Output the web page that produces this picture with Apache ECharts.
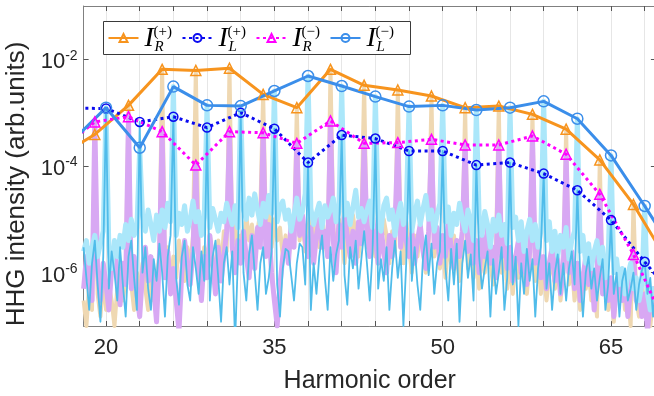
<!DOCTYPE html>
<html><head><meta charset="utf-8">
<script src="https://cdn.jsdelivr.net/npm/echarts@6/dist/echarts.min.js"></script>
<style>html,body{margin:0;padding:0;background:#fff}#c{width:654px;height:396px}</style>
</head><body><div id="c"></div>
<script>
// ---------- data ----------
const X_MIN = 18, X_MAX = 69, STEP = 0.25;
const xTickValues = [20,23,26,29,32,35,38,41,44,47,50,53,56,59,62,65,68];
const xLabelValues = [20,35,50,65];
const yTickValues = [1e-6,1e-4,1e-2];

const harmonicsR = [16,19,22,25,28,31,34,37,40,43,46,49,52,55,58,61,64,67,70];
const harmonicsL = [17,20,23,26,29,32,35,38,41,44,47,50,53,56,59,62,65,68,71];
const IRplus  = [1.6e-4,3.9e-4,1.37e-3,6.5e-3,6.2e-3,6.8e-3,2.2e-3,1.24e-3,6.5e-3,3.26e-3,2.66e-3,2.05e-3,1.24e-3,1.33e-3,9.3e-4,4.9e-4,1.3e-4,1.9e-5,1.7e-6];
const ILplus  = [1.21e-3,1.2e-3,6.7e-4,8.4e-4,5.25e-4,1.0e-3,5.0e-4,1.16e-4,3.8e-4,3.27e-4,1.91e-4,1.91e-4,1.04e-4,1.16e-4,7.2e-5,3.5e-5,9.7e-6,1.6e-6,2.8e-7];
const IRminus = [2.1e-4,6.7e-4,8.4e-4,4.4e-4,1.04e-4,4.4e-4,4.2e-4,2.66e-4,7.0e-4,2.66e-4,2.75e-4,3.16e-4,2.48e-4,2.48e-4,3.65e-4,1.66e-4,2.94e-5,2.2e-6,8.7e-8];
const ILminus = [2.96e-4,1.24e-3,2.2e-4,3.08e-3,1.37e-3,1.33e-3,2.55e-3,4.87e-3,3.16e-3,2.0e-3,1.30e-3,1.37e-3,1.12e-3,1.24e-3,1.63e-3,7.7e-4,1.58e-4,1.78e-5,1.8e-6];

// spectra between peaks, sampled every 0.25 harmonic from 18 to 69 (null = harmonic peak)
const specRplusFloor = [
3e-7,1e-7,6e-7,2e-7, null,4e-7,1.5e-7,8e-7, 2e-7,6e-7,3e-7,1e-7, 5e-7,1.2e-6,3e-7,8e-7,
null,6e-7,2e-7,1e-6, 4e-7,1.5e-6,5e-7,2e-7, 1e-6,3e-7,8e-7,2e-6, null,1e-6,3e-6,6e-7,
2e-6,8e-7,4e-6,1.5e-6, 7e-7,3e-6,1.2e-6,5e-6, null,2e-6,6e-7,3e-6, 1.5e-6,5e-6,2e-6,8e-7,
4e-6,1.2e-6,6e-6,2.5e-6, null,3e-6,9e-6,1.5e-6, 5e-6,2e-6,1.2e-5,4e-6, 8e-6,2.5e-6,6e-6,1.5e-5,
null,6e-6,1.8e-5,3e-6, 1e-5,4e-6,7e-6,2e-6, 5e-6,1.5e-6,8e-6,3e-6, null,4e-6,1.2e-5,2.5e-6,
6e-6,1.5e-5,5e-6,9e-6, 3e-6,1.2e-5,4e-6,2e-6, null,7e-6,2e-6,1e-5, 4e-6,1.5e-6,8e-6,3e-6,
1.2e-5,5e-6,2e-6,7e-6, null,3e-6,1.4e-5,5e-6, 2e-6,8e-6,3e-6,1e-5, 5e-6,1.5e-6,6e-6,2.5e-6,
null,4e-6,1.5e-6,9e-6, 3e-6,1e-6,5e-6,2e-6, 7e-6,2.5e-6,1e-6,4e-6, null,2e-6,6e-6,1.2e-6,
3e-6,8e-7,4e-6,1.5e-6, 5e-6,2e-6,7e-7,3e-6, null,1.2e-6,4e-6,8e-7, 2e-6,5e-7,3e-6,1e-6,
4e-6,1.5e-6,6e-7,2.5e-6, null,1e-6,3e-6,5e-7, 1.5e-6,4e-7,2e-6,8e-7, 3e-6,1e-6,4e-7,1.5e-6,
null,7e-7,2e-6,4e-7, 1.2e-6,3e-7,9e-7,2e-6, 5e-7,1.5e-6,3e-7,1e-6, null,6e-7,1.5e-6,3e-7,
8e-7,2e-7,1e-6,5e-7, 1.2e-6,3e-7,6e-7,1.5e-7, null,4e-7,9e-7,2e-7, 5e-7,1.2e-7,6e-7,3e-7,
8e-7,2e-7,4e-7,1e-7, null,3e-7,1.5e-7,5e-7, 2e-7,6e-7,1e-7,3e-7, 2e-7];
const specRminusFloor = [
5e-7,2e-6,8e-7,3e-7, null,1e-6,3e-7,1.5e-6, 6e-7,2e-7,1.2e-6,3e-6, 8e-7,2.5e-7,1.5e-6,6e-7,
null,5e-7,2e-6,4e-7, 1.5e-7,1e-6,3e-6,7e-7, 2e-6,5e-7,1.2e-7,1.8e-6, null,8e-7,2.5e-6,4e-7,
1.2e-6,3e-7,8e-8,1e-6, 4e-6,1.5e-6,6e-7,2.5e-6, null,1.2e-6,3e-7,2e-6, 8e-7,5e-6,1.5e-6,4e-7,
3e-6,7e-7,2e-6,6e-6, null,3e-6,1e-6,4e-6, 1.5e-6,6e-6,2e-6,8e-7, 5e-6,1.2e-6,7e-6,3e-6,
null,2e-6,8e-6,1e-6, 3e-7,1e-7,6e-7,2e-6, 4e-6,1.5e-6,9e-6,3e-6, null,5e-6,1.2e-5,4e-6,
2e-6,7e-6,1.5e-6,5e-6, 1e-5,3e-6,6e-6,2e-6, null,4e-6,1e-6,8e-6, 3e-6,1.2e-5,5e-6,2e-6,
6e-6,1.5e-6,9e-6,3.5e-6, null,6e-6,2e-6,1.1e-5, 4e-6,1.5e-6,7e-6,2.5e-6, 1e-6,5e-6,2e-6,8e-6,
null,3e-6,1e-5,4e-6, 2e-6,6e-6,1.5e-6,4e-6, 8e-6,2.5e-6,1.2e-6,6e-6, null,3e-6,7e-6,1.5e-6,
5e-6,2e-6,9e-6,3e-6, 1.2e-6,4e-6,2e-6,6e-6, null,2.5e-6,8e-6,1.5e-6, 4e-6,1e-6,5e-6,2e-6,
7e-6,1.5e-6,3e-6,8e-7, null,2e-6,6e-6,1.2e-6, 3e-6,7e-7,2e-6,4e-6, 1e-6,3e-6,6e-7,2.5e-6,
null,1.5e-6,4e-6,8e-7, 2e-6,5e-7,1.5e-6,3e-6, 7e-7,2e-6,4e-7,1.2e-6, null,1e-6,2.5e-6,5e-7,
1.5e-6,3e-7,8e-7,2e-6, 6e-7,1.2e-6,2e-7,9e-7, null,4e-7,1.2e-6,3e-7, 8e-7,1.5e-7,6e-7,1e-6,
3e-7,7e-7,1.5e-7,5e-7, null,3e-7,6e-7,1.5e-7, 4e-7,8e-8,3e-7,5e-7, 2e-7];
const specLminusFloor = [
2.5e-6,4e-6,1.5e-6,3e-6, 5e-6,2e-6,3.5e-6,6e-6, null,3e-6,1.2e-6,4e-6, 2e-6,5e-6,3e-6,8e-6,
4e-6,1e-5,5e-6,7e-6, null,1.2e-5,6e-6,1.5e-5, 8e-6,4e-6,1.2e-5,6e-6, 1.5e-5,7e-6,2e-5,9e-6,
null,5e-6,1.3e-5,8e-6, 1.8e-5,6e-6,1e-5,2.2e-5, 9e-6,1.4e-5,5e-6,1.1e-5, null,7e-6,1.6e-5,1e-5,
6e-6,1.3e-5,9e-6,2e-5, 1.2e-5,8e-6,1.8e-5,7e-6, null,1.5e-5,1e-5,2.5e-5, 1.2e-5,3e-5,1.5e-5,8e-6,
2e-5,1.1e-5,2.8e-5,1.3e-5, null,9e-6,1.7e-5,2.2e-5, 1e-5,1.5e-5,6e-6,1.2e-5, 2.5e-5,1e-5,1.4e-5,3e-5,
null,1.6e-5,8e-6,1.3e-5, 2e-5,7e-6,1.8e-5,1.1e-5, 1.5e-5,2.5e-5,9e-6,1.4e-5, null,1.2e-5,2e-5,8e-6,
1.7e-5,3.5e-5,1.1e-5,1.6e-5, 9e-6,1.5e-5,2.2e-5,7e-6, null,1.3e-5,6e-6,1.8e-5, 2.5e-5,1e-5,1.5e-5,5e-6,
1.2e-5,2e-5,8e-6,1.4e-5, null,6e-6,1.3e-5,2.2e-5, 8e-6,1.6e-5,2.8e-5,1e-5, 1.5e-5,6e-6,1.2e-5,2e-5,
null,9e-6,1.7e-5,5e-6, 1.3e-5,8e-6,2e-5,1e-5, 6e-6,1.5e-5,9e-6,4e-6, null,1.1e-5,5e-6,1.4e-5,
8e-6,3e-6,1e-5,6e-6, 1.2e-5,5e-6,8e-6,3.5e-6, null,7e-6,1.1e-5,4e-6, 9e-6,2.5e-6,6e-6,1e-5,
4e-6,8e-6,3e-6,6e-6, null,4e-6,9e-6,2.5e-6, 6e-6,2e-6,5e-6,3e-6, 7e-6,1.8e-6,4e-6,6e-6,
null,2.5e-6,5e-6,1.5e-6, 3.5e-6,1.2e-6,2.5e-6,4e-6, 1.5e-6,3e-6,8e-7,2e-6, null,1e-6,1.8e-6,6e-7,
1.2e-6,4e-7,9e-7,1.5e-6, 5e-7,8e-7,3e-7,6e-7, null,4e-7,2e-7,5e-7, 3e-7];
const specLplusFloor = [
3e-6,8e-7,2e-7,1.5e-6, 4e-6,6e-7,1.2e-7,2e-6, null,5e-7,2.5e-6,1e-6, 3e-7,3e-6,6e-7,1.5e-7,
2e-6,4e-6,8e-7,2e-7, null,1e-6,3e-6,5e-7, 2e-7,1.8e-6,7e-7,3.5e-6, 1e-6,1.5e-7,2e-6,5e-6,
null,8e-7,2.5e-7,2e-6, 4e-6,6e-7,3e-7,3e-6, 1.2e-6,4e-7,2.5e-6,7e-7, null,3e-7,2e-6,4e-6,
8e-7,1.2e-7,1.5e-6,3e-6, 6e-7,2.5e-6,5e-8,1.8e-6, null,1e-6,3e-7,2.2e-6, 5e-6,1e-6,2e-7,1.5e-6,
3e-6,4e-7,8e-7,2.5e-6, null,6e-7,1.5e-7,1.2e-6, 2.8e-6,2.5e-6,9e-7,3e-7, 1.5e-6,3.5e-6,3e-6,6e-7,
null,2e-7,1.5e-6,4e-7, 2e-6,5e-6,8e-7,2e-7, 3e-6,7e-7,2.2e-6,4e-6, null,9e-7,2.5e-7,3e-6,
1.2e-6,4e-6,5e-7,1.8e-6, 6e-6,1.5e-6,3e-7,2.5e-6, null,5e-7,1.8e-6,7e-7, 3e-6,2e-7,1.2e-6,4e-6,
8e-7,2.5e-6,1e-7,1.5e-6, null,7e-7,3e-6,6e-7, 2e-7,2e-6,5e-6,9e-7, 3.5e-6,4e-7,1.5e-6,2.5e-6,
null,1.2e-6,3e-7,2.8e-6, 6e-7,3.5e-6,1.2e-7,1.5e-6, 4e-6,8e-7,2.2e-6,3e-7, null,2e-6,5e-7,1.2e-6,
2.5e-6,1.5e-7,1.8e-6,4e-7, 1e-6,3e-6,2e-7,8e-7, null,6e-7,2e-6,1e-7, 1.5e-6,4e-7,2.8e-6,7e-7,
1.8e-6,1.5e-7,1.2e-6,3e-6, null,5e-7,1.5e-6,2e-7, 1e-6,2.2e-6,4e-7,1.5e-6, 3e-7,1.2e-6,2.5e-6,6e-7,
null,9e-7,1.5e-7,1e-6, 2e-6,5e-7,1.2e-6,3e-7, 8e-7,1.8e-6,2e-7,6e-7, null,4e-7,1e-6,1.5e-7,
7e-7,1.2e-6,3e-7,5e-7, 1e-6,2e-7,6e-7,1.1e-6, null,4e-7,8e-7,1.5e-7, 6e-7];

const seriesNames = ['I_R(+)','I_L(+)','I_R(\u2212)','I_L(\u2212)'];
const legendMath = [
  {base:'I', sub:'R', sup:'(+)'},
  {base:'I', sub:'L', sup:'(+)'},
  {base:'I', sub:'R', sup:'(\u2212)'},
  {base:'I', sub:'L', sup:'(\u2212)'}
];

// ---------- build ----------
function spectrum(floor, harmonics, peaks) {
  return floor.map((v, i) => {
    const x = X_MIN + i * STEP;
    const k = harmonics.indexOf(x);
    return [x, k >= 0 ? peaks[k] : v];
  });
}
function pairs(hs, vals) { return hs.map((h, i) => [h, vals[i]]); }

const C_OR = '#F7941E', C_DB = '#0A0AF0', C_MG = '#FF00FF', C_LB = '#3B8EEA';

function specSeries(name, data, color, width) {
  return { name, type: 'line', data, symbol: 'none', silent: true, animation: false,
    lineStyle: { color, width, join: 'round' }, z: 2, emphasis: { disabled: true } };
}
function markerSeries(name, data, color, symbol, size, dotted) {
  return { name, type: 'line', data, symbol, symbolSize: size, showSymbol: true,
    silent: true, animation: false, clip: true, z: 3, emphasis: { disabled: true },
    itemStyle: { color: 'rgba(255,255,255,0)', borderColor: color, borderWidth: 1.5 },
    lineStyle: { color, width: 3, type: dotted ? [3, 3.5] : 'solid' } };
}

const FONT = '"Liberation Sans", Arial, Helvetica, sans-serif';
const AX = '#808080', TK = '#555', TXT = '#262626';

// legend frame and entries
const LEG_BOX = { x: 103.5, y: 21.5, w: 307, h: 33 };
const LEG_FIRST = 107.5, LEG_STEP = 74, ICON_W = 30, ICON_H = 10, LEG_MID = 38;

const graphics = [{
  type: 'rect', z: 10, silent: true,
  shape: { x: LEG_BOX.x, y: LEG_BOX.y, width: LEG_BOX.w, height: LEG_BOX.h },
  style: { fill: '#fff', stroke: '#3a3a3a', lineWidth: 1 }
}];
legendMath.forEach((m, k) => {
  const x0 = LEG_FIRST + k * LEG_STEP + ICON_W + 6;
  graphics.push({ type: 'text', x: x0 + 1, y: LEG_MID + 1, z: 30, silent: true,
    style: { text: m.base, font: 'italic 28px "Liberation Serif", serif', fill: '#000', align: 'left', verticalAlign: 'middle' } });
  graphics.push({ type: 'text', x: x0 + 10, y: LEG_MID - 5.5, z: 30, silent: true,
    style: { text: m.sup, font: '15px "Liberation Serif", serif', fill: '#000', align: 'left', verticalAlign: 'middle' } });
  graphics.push({ type: 'text', x: x0 + 11, y: LEG_MID + 9, z: 30, silent: true,
    style: { text: m.sub, font: 'italic 15px "Liberation Serif", serif', fill: '#000', align: 'left', verticalAlign: 'middle' } });
});
const legends = seriesNames.map((n, k) => ({
  data: [n], left: LEG_FIRST + k * LEG_STEP, top: LEG_MID - ICON_H / 2, orient: 'horizontal',
  itemWidth: ICON_W, itemHeight: ICON_H, itemGap: 0, padding: 0, z: 20,
  selectedMode: false, formatter: () => '',
  textStyle: { fontSize: 1, lineHeight: 1 }
}));

const chart = echarts.init(document.getElementById('c'));
chart.setOption({
  animation: false,
  backgroundColor: '#fff',
  grid: { left: 83.6, right: -1.9, top: 6, bottom: 70, containLabel: false, outerBoundsMode: 'none' },
  xAxis: [{
    type: 'value', min: X_MIN, max: X_MAX, position: 'bottom',
    name: 'Harmonic order', nameLocation: 'middle', nameGap: 43,
    nameTextStyle: { fontSize: 25, color: TXT, fontFamily: FONT },
    axisLine: { show: true, onZero: false, lineStyle: { color: AX, width: 1 } },
    axisTick: { show: true, inside: true, length: 5, customValues: xTickValues, lineStyle: { color: TK } },
    axisLabel: { show: true, customValues: xLabelValues, fontSize: 22, color: TXT, fontFamily: FONT, margin: 11 },
    splitLine: { show: true, lineStyle: { color: '#e6e6e6', width: 1 } }
  }, {
    type: 'value', min: X_MIN, max: X_MAX, position: 'top',
    axisLine: { show: true, onZero: false, lineStyle: { color: AX, width: 1 } },
    axisTick: { show: true, inside: true, length: 5, customValues: xTickValues, lineStyle: { color: TK } },
    axisLabel: { show: false }, splitLine: { show: false }
  }],
  yAxis: [{
    type: 'log', logBase: 10, min: 1e-7, max: 1e-1, position: 'left',
    name: 'HHG intensity (arb.units)', nameLocation: 'middle', nameGap: 52,
    nameTextStyle: { fontSize: 26, color: TXT, fontFamily: FONT, padding: [0, 36, 0, 0] },
    axisLine: { show: true, onZero: false, lineStyle: { color: AX, width: 1 } },
    axisTick: { show: true, inside: true, length: 5, customValues: yTickValues, lineStyle: { color: TK } },
    axisLabel: { show: true, customValues: yTickValues, margin: 6, color: TXT, fontFamily: FONT,
      formatter: v => '{b|10}{e|' + Math.round(Math.log10(v)) + '}',
      rich: { b: { fontSize: 22, color: TXT, fontFamily: FONT, padding: [6, 0, 0, 0] },
              e: { fontSize: 14, color: TXT, fontFamily: FONT, padding: [0, 0, 7, 0] } } },
    splitLine: { show: false }, minorTick: { show: false }
  }, {
    type: 'log', logBase: 10, min: 1e-7, max: 1e-1, position: 'right',
    axisLine: { show: true, onZero: false, lineStyle: { color: AX, width: 1 } },
    axisTick: { show: true, inside: true, length: 5, customValues: yTickValues, lineStyle: { color: TK } },
    axisLabel: { show: false }, splitLine: { show: false }
  }],
  legend: legends,
  graphic: graphics,
  series: [
    specSeries('specRplus', spectrum(specRplusFloor, harmonicsR, IRplus), '#EFD8B2', 4),
    specSeries('specRminus', spectrum(specRminusFloor, harmonicsR, IRminus), '#D8A8F3', 5),
    specSeries('specLminus', spectrum(specLminusFloor, harmonicsL, ILminus), '#ABE7FA', 5),
    specSeries('specLplus', spectrum(specLplusFloor, harmonicsL, ILplus), '#50BCEA', 1.8),
    markerSeries(seriesNames[0], pairs(harmonicsR, IRplus), C_OR, 'triangle', 10, false),
    markerSeries(seriesNames[1], pairs(harmonicsL, ILplus), C_DB, 'circle', 9, true),
    markerSeries(seriesNames[2], pairs(harmonicsR, IRminus), C_MG, 'triangle', 10, true),
    markerSeries(seriesNames[3], pairs(harmonicsL, ILminus), C_LB, 'circle', 11, false)
  ]
});
</script></body></html>
